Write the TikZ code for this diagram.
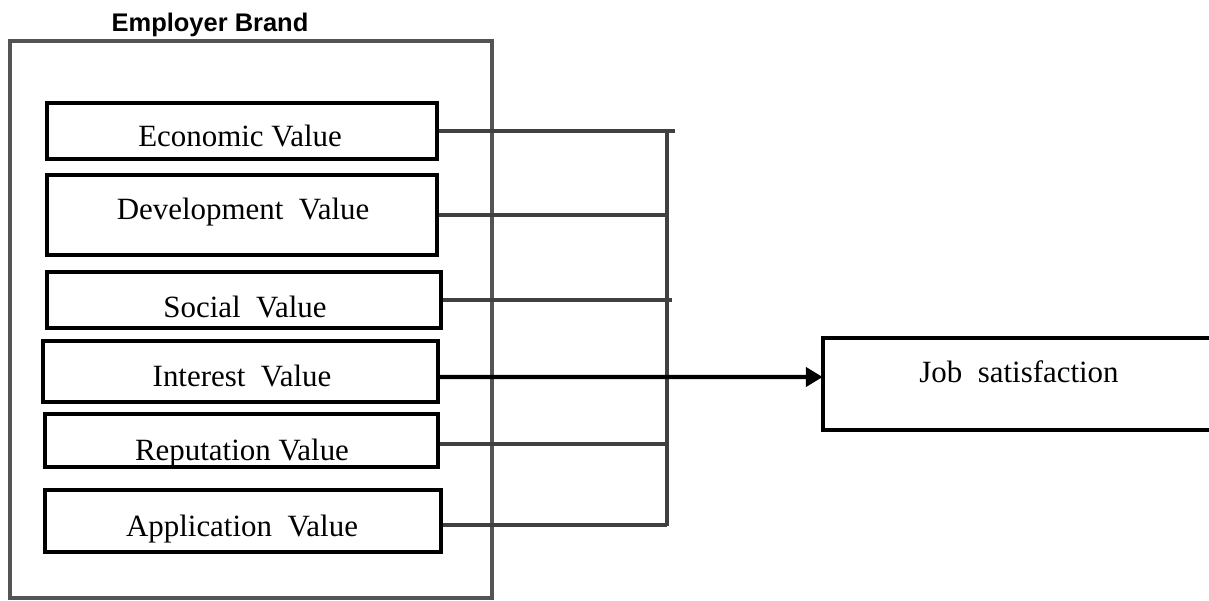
\documentclass[tikz,border=0pt]{standalone}
\usepackage{fontspec}
\setmainfont{Liberation Serif}
\newfontfamily\headfont{Liberation Sans}
\usetikzlibrary{arrows.meta,calc}

\tikzset{
  valbox/.style={draw=black, line width=2.3pt, inner sep=0pt},
  valtext/.style={anchor=base, inner sep=0pt, font=\fontsize{17.6}{19}\selectfont},
  frame/.style={draw=black!67, line width=1.8pt, inner sep=0pt},
  link/.style={draw=black!75, line width=2.4pt},
}

\begin{document}
\begin{tikzpicture}[x=0.02cm,y=-0.02cm]
\useasboundingbox (0,0) rectangle (1209,601);

% outer frame and title
\node[frame, minimum width=9.64cm, minimum height=11.14cm] (brand) at (251,319.5) {};
\node[anchor=base, inner sep=0pt, font=\headfont\bfseries\fontsize{14.5}{16}\selectfont] (title) at (210,32) {Employer Brand};

% value boxes
\node[valbox, minimum width=7.8cm, minimum height=1.12cm] (eco) at (242,131) {};
\node[valbox, minimum width=7.8cm, minimum height=1.6cm] (dev) at (242,215) {};
\node[valbox, minimum width=7.88cm, minimum height=1.12cm] (soc) at (244,300) {};
\node[valbox, minimum width=7.9cm, minimum height=1.22cm] (int) at (240.5,371.5) {};
\node[valbox, minimum width=7.86cm, minimum height=1.06cm] (rep) at (241.5,440.5) {};
\node[valbox, minimum width=7.92cm, minimum height=1.24cm] (app) at (243,521) {};

\node[valtext] (ecot) at (240,147) {Economic Value};
\node[valtext] (devt) at (243,219) {Development\ \ Value};
\node[valtext] (soct) at (245,317) {Social\ \ Value};
\node[valtext] (intt) at (242,386) {Interest\ \ Value};
\node[valtext] (rept) at (242,460) {Reputation Value};
\node[valtext] (appt) at (242,536) {Application\ \ Value};

% outcome box, open on the right
\node[minimum width=7.72cm, minimum height=1.84cm, inner sep=0pt] (job) at (1016,384) {};
\draw[black, line width=2.3pt] (job.north east) -- (job.north west) -- (job.south west) -- (job.south east);
\node[valtext] (jobt) at (1019,382) {Job\ \ satisfaction};

% bus
\coordinate (bustop) at (667,129);
\coordinate (busbot) at (667,526);
\draw[link] (bustop) -- (busbot);

\draw[link] (eco.east) -- (eco.east -| 675,0);
\draw[link] (dev.east) -- (dev.east -| bustop);
\draw[link] (soc.east) -- (soc.east -| 672,0);
\draw[link] ($(rep.east)+(0,3.5)$) -- ($(rep.east -| bustop)+(0,3.5)$);
\draw[link] ($(app.east)+(0,4)$) -- ($(app.east -| bustop)+(0,4)$);

\draw[black, line width=2.4pt, -{Triangle[length=9.6pt,width=10.8pt]}] ($(int.east)+(0,5.5)$) -- ($(job.west)+(0,-7)$);
\end{tikzpicture}
\end{document}
